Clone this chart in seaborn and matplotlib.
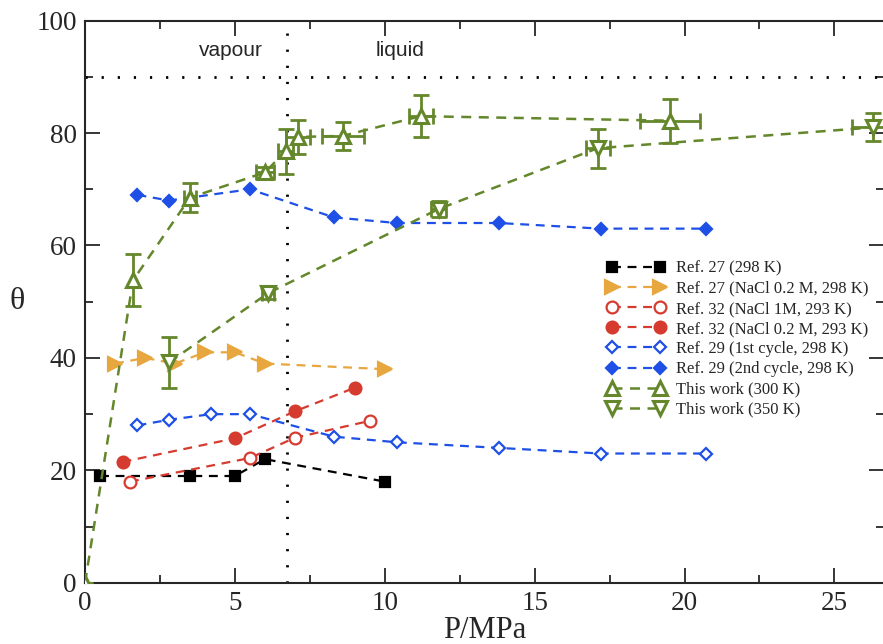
import matplotlib
matplotlib.use("Agg")
import matplotlib.pyplot as plt
import seaborn as sns
import numpy as np
import pandas as pd

# ---- data ----
ref27_p = [0.5, 3.5, 5.0, 6.0, 10.0]
ref27_t = [19, 19, 19, 22, 18]

ref27_nacl_p = [1.0, 2.0, 3.0, 4.0, 5.0, 6.0, 10.0]
ref27_nacl_t = [39, 40, 39, 41, 41, 39, 38]

ref32_1m_p = [1.5, 5.5, 7.0, 9.5]
ref32_1m_t = [18, 22.2, 25.8, 28.8]

ref32_02_p = [1.25, 5.0, 7.0, 9.0]
ref32_02_t = [21.5, 25.7, 30.5, 34.7]

ref29_c1_p = [1.75, 2.8, 4.2, 5.5, 8.3, 10.4, 13.8, 17.2, 20.7]
ref29_c1_t = [28, 29, 30, 30, 26, 25, 24, 23, 23]

ref29_c2_p = [1.75, 2.8, 5.5, 8.3, 10.4, 13.8, 17.2, 20.7]
ref29_c2_t = [69, 68, 70, 65, 64, 64, 63, 63]

w300_p = [0.0, 1.6, 3.5, 6.0, 6.7, 7.1, 8.6, 11.2, 19.5]
w300_t = [0.0, 53.8, 68.5, 73.0, 76.8, 79.3, 79.5, 83.0, 82.2]
w300_perr = [0, 0, 0.2, 0.3, 0.25, 0.4, 0.7, 0.4, 1.0]
w300_terr = [0, 4.6, 2.6, 1.0, 4.0, 3.0, 2.5, 3.7, 3.9]

w350_p = [2.8, 6.1, 11.8, 17.1, 26.3]
w350_t = [39.2, 51.5, 66.5, 77.3, 81.0]
w350_perr = [0, 0.2, 0.25, 0.4, 0.7]
w350_terr = [4.6, 1.0, 1.5, 3.5, 2.5]

labels = ["Ref. 27 (298 K)", "Ref. 27 (NaCl 0.2 M, 298 K)",
          "Ref. 32 (NaCl 1M, 293 K)", "Ref. 32 (NaCl 0.2 M, 293 K)",
          "Ref. 29 (1st cycle, 298 K)", "Ref. 29 (2nd cycle, 298 K)",
          "This work (300 K)", "This work (350 K)"]

black = "#000000"
orange = "#E8A63E"
red = "#D63B30"
blue = "#1E50E6"
green = "#63872A"

sns.set_style("ticks")
plt.rcParams["font.family"] = ["Liberation Serif", "DejaVu Serif"]

fig = plt.figure(figsize=(8.83, 6.44), dpi=100)
ax = fig.add_axes([0.0963, 0.095, 0.905, 0.873])

series = [
    (ref27_p, ref27_t, black, "s", black, 7),
    (ref27_nacl_p, ref27_nacl_t, orange, ">", orange, 10),
    (ref32_1m_p, ref32_1m_t, red, "o", "white", 8.5),
    (ref32_02_p, ref32_02_t, red, "o", red, 8.5),
    (ref29_c1_p, ref29_c1_t, blue, "D", "white", 6.5),
    (ref29_c2_p, ref29_c2_t, blue, "D", blue, 6.5),
]
for (p, t, c, m, fc, ms), lab in zip(series, labels[:6]):
    df = pd.DataFrame({"P": p, "theta": t})
    sns.lineplot(data=df, x="P", y="theta", sort=False, ax=ax, color=c,
                 linestyle=(0, (4, 3)), lw=1.6, marker=m, markersize=ms,
                 markerfacecolor=fc, markeredgecolor=c, markeredgewidth=1.6,
                 label=lab, zorder=3)

for p, t, pe, te, m, lab in [(w300_p, w300_t, w300_perr, w300_terr, "^", labels[6]),
                             (w350_p, w350_t, w350_perr, w350_terr, "v", labels[7])]:
    df = pd.DataFrame({"P": p, "theta": t})
    ax.errorbar(p, t, xerr=pe, yerr=te, fmt="none", ecolor=green,
                elinewidth=2.0, capsize=6, capthick=2.0, zorder=4)
    sns.lineplot(data=df, x="P", y="theta", sort=False, ax=ax, color=green,
                 linestyle=(0, (4, 3)), lw=1.8, marker=m, markersize=10,
                 markerfacecolor="white", markeredgecolor=green,
                 markeredgewidth=2.2, label=lab, zorder=5)

# vapour / liquid separation
ax.axhline(90, color="black", lw=2, linestyle=(0, (0.8, 5)), zorder=1)
ax.axvline(6.75, color="black", lw=2, linestyle=(0, (0.8, 5)), zorder=1)
ax.text(4.85, 94.6, "vapour", ha="center", va="center", fontsize=15,
        family="Liberation Sans")
ax.text(10.5, 94.6, "liquid", ha="center", va="center", fontsize=15,
        family="Liberation Sans")

ax.set_xlim(0, 26.66)
ax.set_ylim(0, 100)
ax.set_xticks([0, 5, 10, 15, 20, 25])
ax.set_xticks(np.arange(2.5, 26.6, 5), minor=True)
ax.set_yticks([0, 20, 40, 60, 80, 100])
ax.set_yticks([10, 30, 50, 70, 90], minor=True)
ax.tick_params(which="both", direction="in", top=True, right=True,
               labelsize=19.5, width=1.3, pad=6)
ax.tick_params(which="major", length=11)
ax.tick_params(which="minor", length=5.5)
for s in ax.spines.values():
    s.set_linewidth(1.5)

ax.set_xlabel("P/MPa", fontsize=22, labelpad=0)
ax.set_ylabel("θ", fontsize=23, rotation=0, va="center")
ax.yaxis.set_label_coords(-0.085, 0.5)

ax.legend(loc="upper left", bbox_to_anchor=(0.643, 0.588), frameon=False,
          numpoints=2, fontsize=12, handlelength=3.47, handletextpad=0.66,
          labelspacing=0.25, borderpad=0)

fig.savefig("out.png", dpi=100)
